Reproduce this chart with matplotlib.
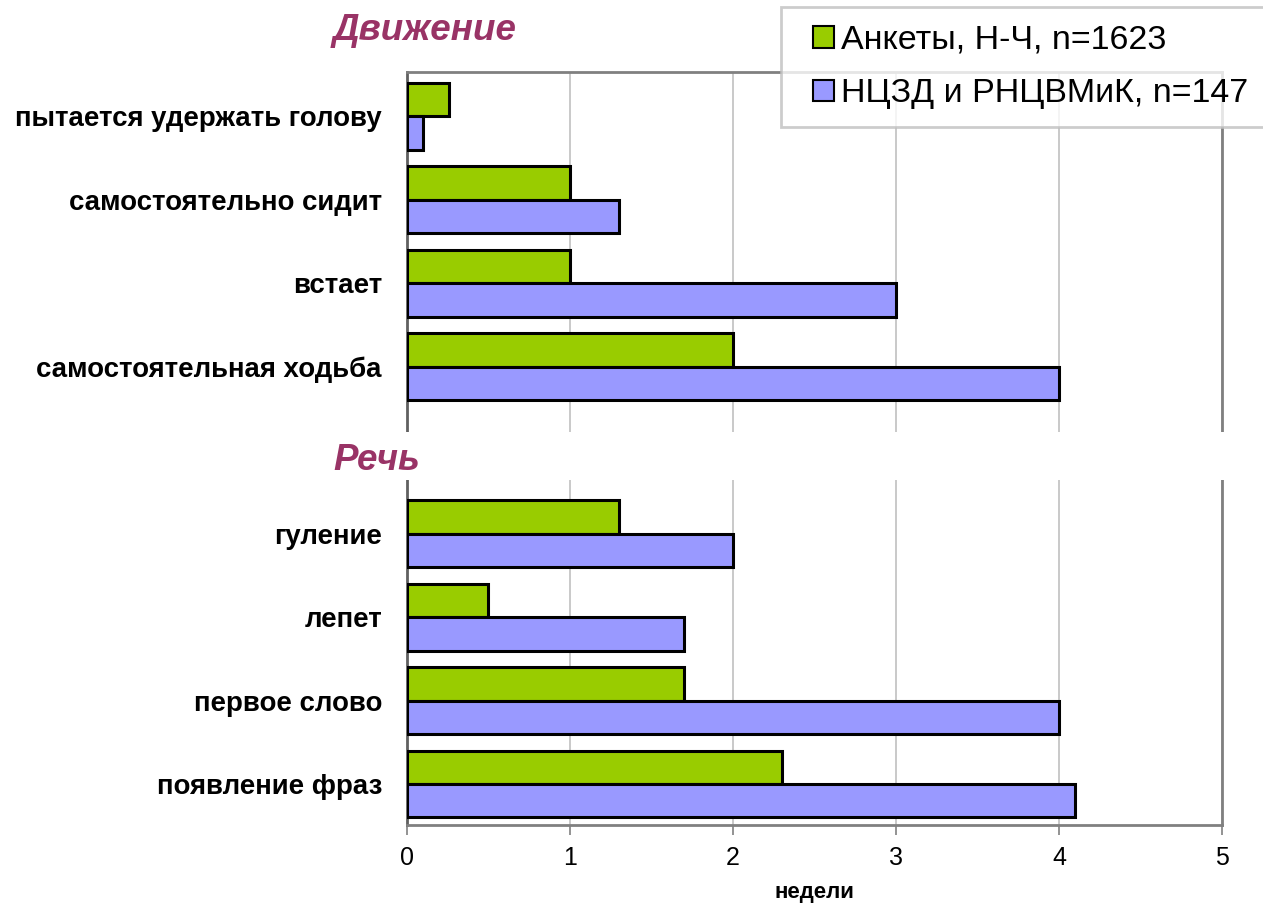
import matplotlib.pyplot as plt
from matplotlib.patches import Rectangle

plt.rcParams['font.family'] = ['Liberation Sans', 'DejaVu Sans']
narrow = ['Liberation Sans Narrow', 'Liberation Sans', 'DejaVu Sans']

labels = ["пытается удержать голову", "самостоятельно сидит", "встает",
          "самостоятельная ходьба", "гуление", "лепет", "первое слово",
          "появление фраз"]
ankety = [0.26, 1.0, 1.0, 2.0, 1.3, 0.5, 1.7, 2.3]
ncz = [0.1, 1.3, 3.0, 4.0, 2.0, 1.7, 4.0, 4.1]
pos = [0, 1, 2, 3, 5, 6, 7, 8]

fig = plt.figure(figsize=(12.63, 9.05), dpi=100)
ax = fig.add_axes([0.3222, 0.0884, 0.6453, 0.832])

h = 0.4
ax.barh([p - h / 2 for p in pos], ankety, height=h, color='#99cc00',
        edgecolor='black', linewidth=2.2, label="Анкеты, Н-Ч, n=1623", zorder=3)
ax.barh([p + h / 2 for p in pos], ncz, height=h, color='#9999ff',
        edgecolor='black', linewidth=2.2, label="НЦЗД и РНЦВМиК, n=147", zorder=3)

ax.set_ylim(8.49, -0.53)
ax.set_xlim(0, 5)
ax.set_yticks(pos)
ax.set_yticklabels(labels, fontsize=19.9, fontweight='bold')
ax.tick_params(axis='y', length=0, pad=18)
ax.set_xticks([0, 1, 2, 3, 4, 5])
ax.tick_params(axis='x', length=7, width=1.2, color='#808080', pad=8)
for t in ax.get_xticklabels():
    t.set_family(narrow)
    t.set_fontsize(18)
ax.xaxis.grid(True, color='#c0c0c0', linewidth=1.2, zorder=0)
ax.set_axisbelow(True)
for side in ['top', 'right', 'bottom']:
    ax.spines[side].set_color('#808080')
    ax.spines[side].set_linewidth(2)
ax.spines['left'].set_color('#606060')
ax.spines['left'].set_linewidth(2)
ax.set_xlabel("недели", fontsize=16, fontweight='bold', labelpad=9, family=narrow)

# white gap between the two sections
ax.add_patch(Rectangle((-0.05, 3.78), 5.1, 0.58, transform=ax.transData,
                       facecolor='white', edgecolor='none', clip_on=False, zorder=10))

fig.text(0.2637, 0.966, "Движение", fontsize=26.5, fontweight='bold', style='italic',
         color='#993366', va='center', ha='left')
fig.text(0.2637, 0.491, "Речь", fontsize=26.5, fontweight='bold', style='italic',
         color='#993366', va='center', ha='left')

leg = fig.legend(loc='upper left', bbox_to_anchor=(0.6184, 0.992), fontsize=24.5,
                 frameon=True, fancybox=False, handlelength=1.05, handleheight=0.6,
                 handletextpad=0.2, borderpad=0.52, labelspacing=0.66,
                 borderaxespad=0)
leg.get_frame().set_edgecolor('#c0c0c0')
leg.get_frame().set_linewidth(2)
for p in leg.get_patches():
    p.set_linewidth(1.5)
    side = p.get_height()
    p.set_x(p.get_x() + p.get_width() - side)
    p.set_width(side)

fig.savefig("out.png", dpi=100)
